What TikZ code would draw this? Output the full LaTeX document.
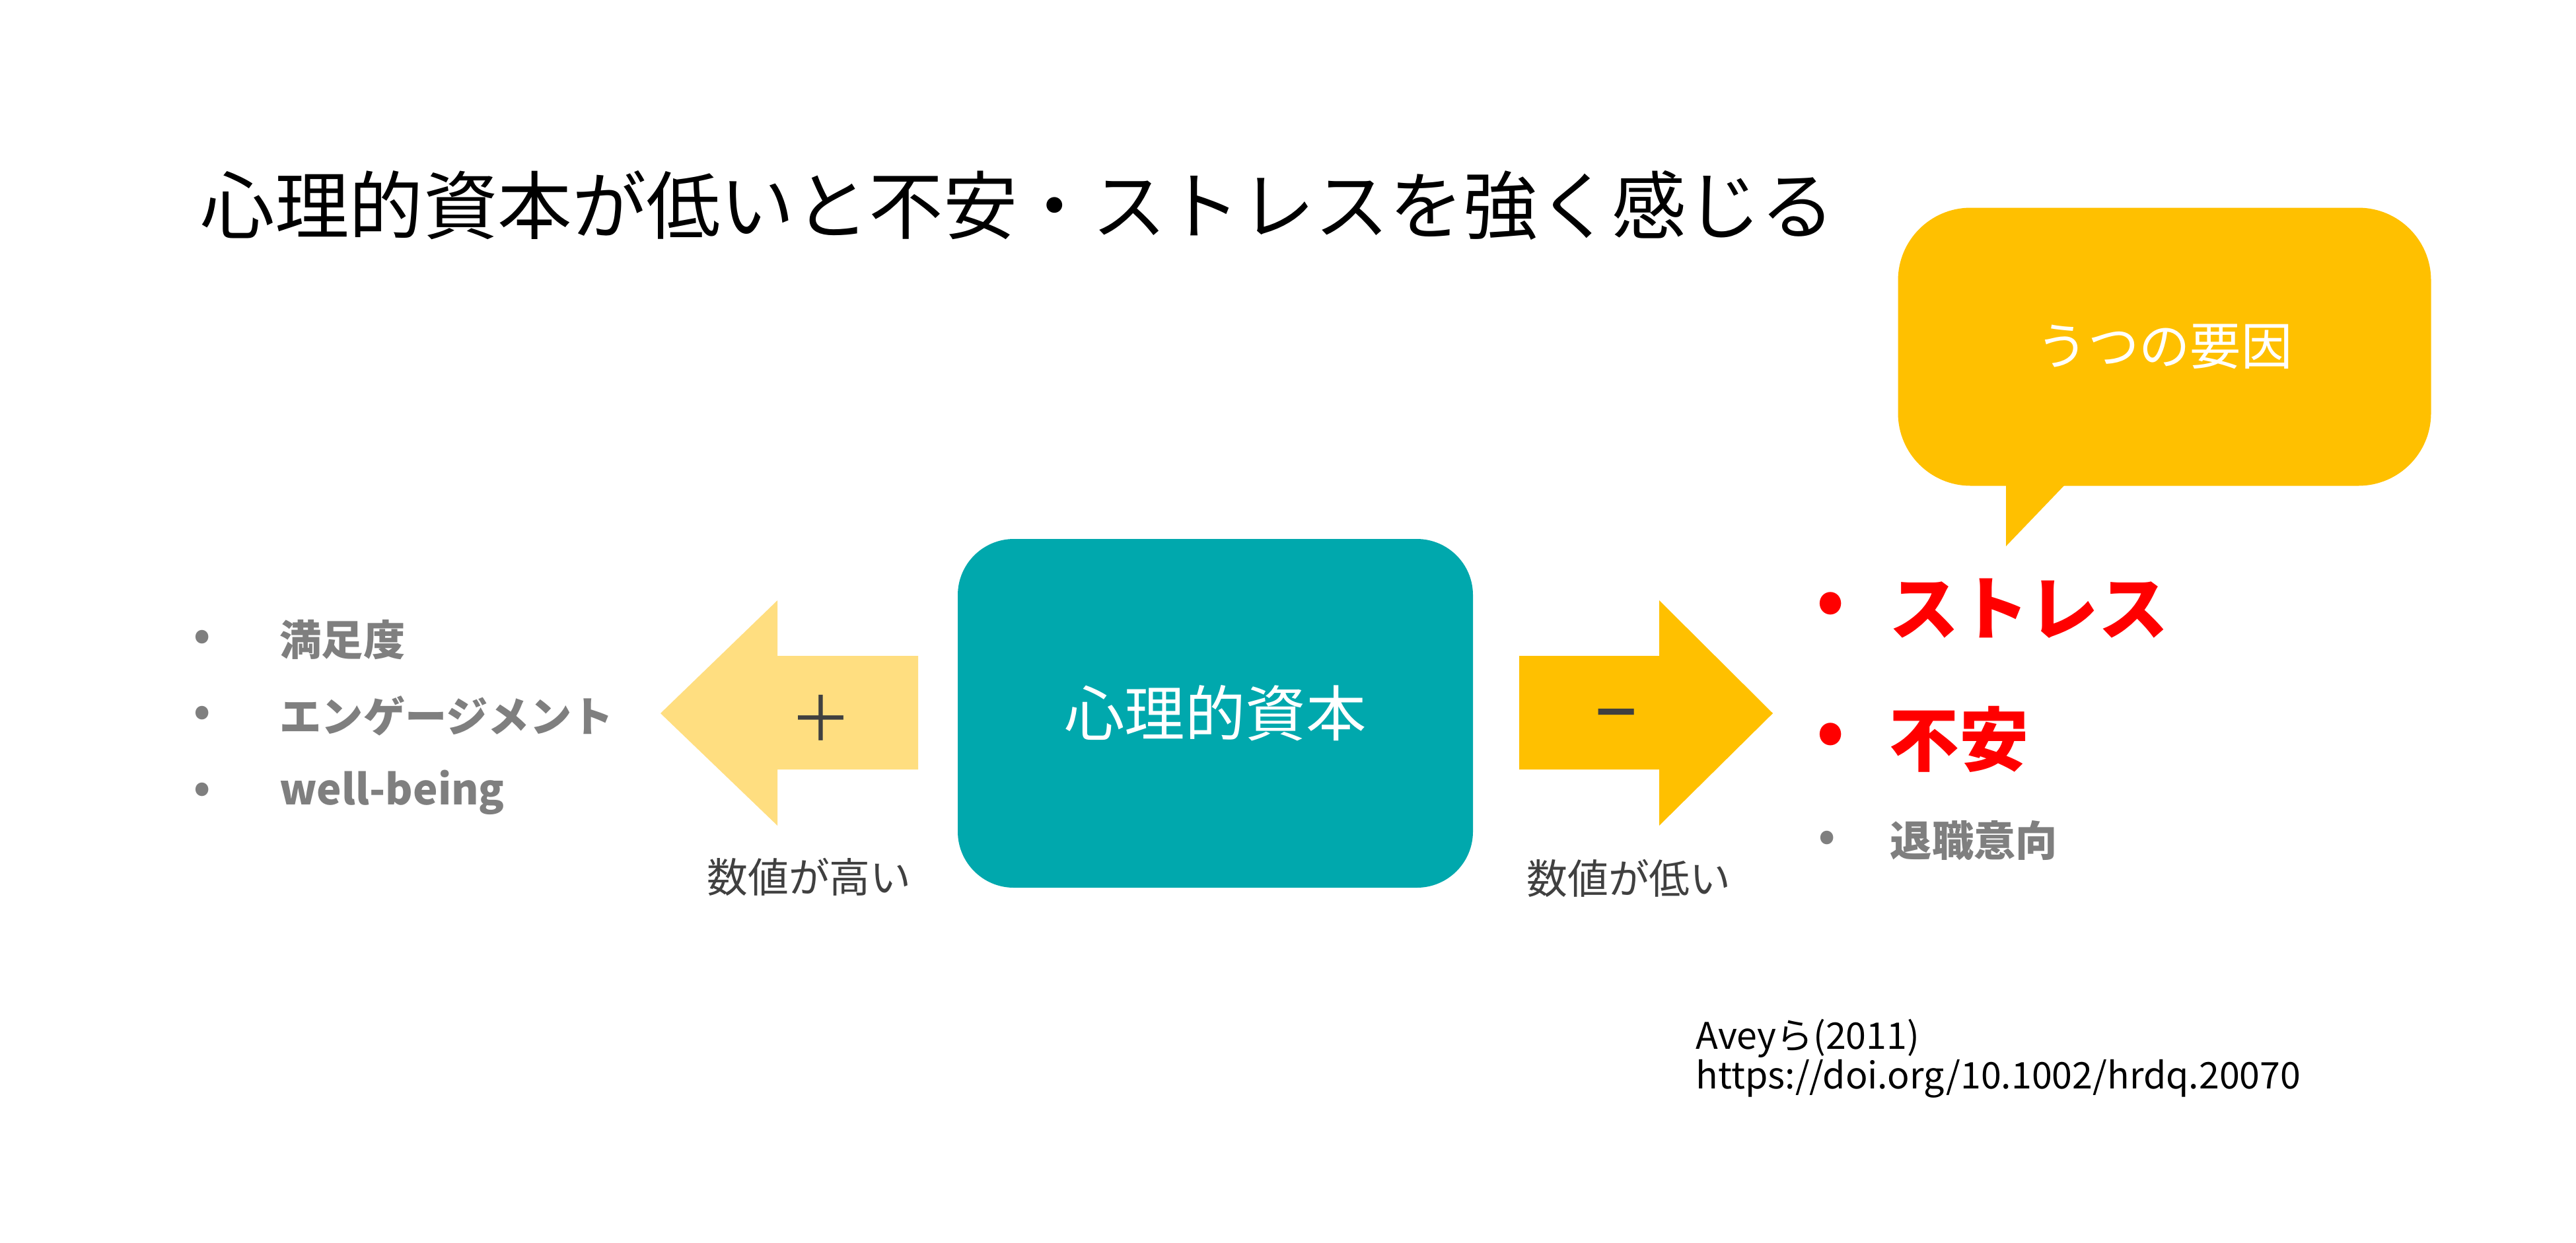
\documentclass[tikz,border=0pt]{standalone}
\usepackage{fontspec}
\setmainfont{Noto Sans CJK JP}
\usetikzlibrary{positioning,calc}
\definecolor{clrTeal}{RGB}{0,168,173}
\definecolor{clrGold}{RGB}{255,192,0}
\definecolor{clrPale}{RGB}{255,222,128}
\definecolor{clrInk}{RGB}{64,64,64}
\definecolor{clrMute}{RGB}{127,127,127}
\definecolor{clrAlert}{RGB}{255,0,0}
\tikzset{
  heading/.style={anchor=west,inner sep=0pt,font=\fontsize{32}{38}\selectfont},
  core/.style={rectangle,rounded corners=0.85cm,fill=clrTeal,
    minimum width=7.8cm,minimum height=5.28cm,text=white,
    font=\fontsize{26}{31}\selectfont},
  bubble/.style={rectangle,rounded corners=1.1cm,fill=clrGold,
    minimum width=8.07cm,minimum height=4.21cm,text=white,
    font=\fontsize{22}{26}\selectfont},
  sign/.style={inner sep=0pt,text=clrInk,font=\fontsize{27}{32}\selectfont},
  caption/.style={inner sep=0pt,text=clrInk,font=\fontsize{17.6}{21}\selectfont},
  dotminor/.style={inner sep=0pt,text=clrMute,font=\bfseries\fontsize{18}{22}\selectfont},
  dotmajor/.style={inner sep=0pt,text=clrAlert,font=\bfseries\fontsize{30}{36}\selectfont},
  minor/.style={anchor=west,inner sep=0pt,text=clrMute,
    font=\bfseries\fontsize{18}{22}\selectfont},
  major/.style={anchor=west,inner sep=0pt,text=clrAlert,
    font=\bfseries\fontsize{30}{36}\selectfont},
  source/.style={anchor=north west,inner sep=0pt,align=left,
    font=\fontsize{15.8}{15.6}\selectfont}
}

\begin{document}
\begin{tikzpicture}[x=1cm,y=-1cm]
  \useasboundingbox[fill=white] (0,0) rectangle (39,18.81);

  \node[heading] (title) at (3.03,3.11)
    {心理的資本が低いと不安・ストレスを強く感じる};

  % centre box and the two block arrows
  \node[core] (capital) at (18.40,10.80) {心理的資本};

  \fill[clrPale] (13.90,9.93) -- (11.77,9.93) -- (11.77,9.09) -- (10.00,10.80)
    -- (11.77,12.50) -- (11.77,11.65) -- (13.90,11.65) -- cycle;
  \fill[clrGold] (23.00,9.93) -- (25.12,9.93) -- (25.12,9.09) -- (26.84,10.80)
    -- (25.12,12.50) -- (25.12,11.65) -- (23.00,11.65) -- cycle;

  \node[sign] (plus) at (12.43,10.87) {＋};
  \node[sign,font=\bfseries\fontsize{22}{26}\selectfont] (minus) at (24.47,10.90) {－};

  \node[caption] (high) at (12.25,13.28) {数値が高い};
  \node[caption] (low) at (24.66,13.30) {数値が低い};

  % left list
  \node[dotminor] (d1) at (3.06,9.69) {•};
  \node[dotminor] (d2) at (3.06,10.84) {•};
  \node[dotminor] (d3) at (3.06,12.00) {•};
  \node[minor] (satisfy) at (4.23,9.69) {満足度};
  \node[minor] (engage) at (4.23,10.84) {エンゲージメント};
  \node[minor] (wellbeing) at (4.23,12.00) {well-being};

  % right list
  \node[dotmajor] (d4) at (27.72,9.21) {•};
  \node[dotmajor] (d5) at (27.72,11.19) {•};
  \node[dotminor] (d6) at (27.66,12.73) {•};
  \node[major] (stress) at (28.60,9.21) {ストレス};
  \node[major] (anxiety) at (28.60,11.19) {不安};
  \node[minor] (turnover) at (28.61,12.73) {退職意向};

  % speech bubble
  \node[bubble] (cause) at (32.77,5.25) {うつの要因};
  \fill[clrGold] (30.37,7.20) -- (30.37,8.27) -- (31.30,7.30) -- (31.30,7.20) -- cycle;

  \node[source] (cite) at (25.67,15.42)
    {Aveyら(2011)\\https://doi.org/10.1002/hrdq.20070};
\end{tikzpicture}
\end{document}
